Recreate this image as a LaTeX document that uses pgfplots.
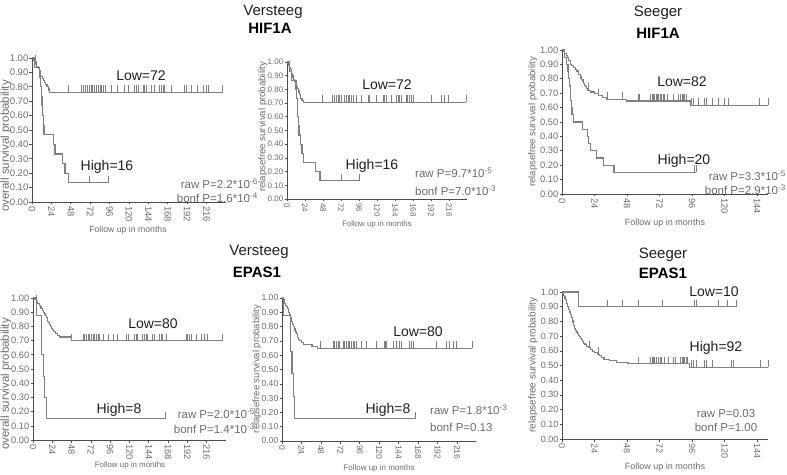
\documentclass[border=0pt]{standalone}
\usepackage{pgfplots}
\pgfplotsset{compat=1.18}
\usepackage{fontspec}
\setmainfont{Liberation Sans}
\definecolor{curve}{gray}{0.5}
\definecolor{axisc}{gray}{0.3}
\definecolor{tickc}{gray}{0.42}
\definecolor{lab}{gray}{0.12}
\pgfdeclareplotmark{cens}{\pgfpathmoveto{\pgfqpoint{0pt}{0pt}}\pgfpathlineto{\pgfqpoint{0pt}{7pt}}\pgfusepathqstroke}
\pgfplotsset{
 km/.style={
  scale only axis, xmin=0, ymin=0, ymax=1, clip=false,
  axis x line*=bottom, axis y line*=left,
  axis line style={draw=axisc, line width=0.8pt},
  ytick={0,0.1,0.2,0.3,0.4,0.5,0.6,0.7,0.8,0.9,1},
  yticklabel style={/pgf/number format/fixed,/pgf/number format/fixed zerofill,/pgf/number format/precision=2, inner sep=1pt},
  /pgf/number format/assume math mode=true,
  tick align=outside, major tick length=2.5pt,
  every tick/.style={draw=axisc, line width=0.6pt},
  xticklabel style={rotate=-90, anchor=west, inner sep=1.5pt},
  tick label style={text=tickc},
 },
 kmline/.style={const plot, draw=curve, line width=1.1pt, mark=none},
 kmcens/.style={only marks, mark=cens, mark options={draw=curve, line width=0.7pt}},
}
\newcommand{\fs}[1]{\fontsize{#1}{#1}\selectfont}
\begin{document}
\begin{tikzpicture}
% ---------------- Panel 1: Versteeg HIF1A overall
\begin{axis}[km, at={(32pt,272pt)}, anchor=south west, width=194pt, height=144pt, xmax=240,
  xtick={0,24,...,216}, tick label style={font=\fs{9.5}}]
\addplot[kmline] coordinates {(0,1)(2,0.986)(3,0.972)(5,0.958)(6,0.944)(8,0.93)(9,0.916)(10,0.888)(11,0.874)(12.5,0.86)(14,0.846)(15.5,0.832)(17,0.818)(18.5,0.804)(20,0.79)(21,0.776)(22,0.762)(236,0.762)};
\addplot[kmcens] coordinates {(4,0.972)(45,0.762)(61,0.762)(63.5,0.762)(66,0.762)(68,0.762)(71,0.762)(73,0.762)(75,0.762)(77.5,0.762)(80,0.762)(82,0.762)(84,0.762)(86,0.762)(88,0.762)(90.7,0.762)(98,0.762)(105.6,0.762)(114.6,0.762)(118.8,0.762)(127,0.762)(129,0.762)(131,0.762)(137.3,0.762)(139.4,0.762)(141.4,0.762)(147.6,0.762)(151.7,0.762)(158,0.762)(160,0.762)(162,0.762)(164,0.762)(173,0.762)(189,0.762)(191,0.762)(197,0.762)(204.5,0.762)(211.5,0.762)(215.6,0.762)(217.7,0.762)(236,0.762)};
\addplot[kmline] coordinates {(0,1)(3,0.933)(9.5,0.867)(11,0.80)(11.7,0.733)(12.4,0.667)(13.2,0.60)(14,0.533)(14.8,0.467)(26.4,0.40)(28.5,0.333)(38,0.267)(40.8,0.20)(45,0.133)(94.4,0.133)};
\addplot[kmcens] coordinates {(71,0.133)(94.4,0.133)};
\end{axis}
% ---------------- Panel 2: Versteeg HIF1A relapsefree
\begin{axis}[km, at={(287pt,275pt)}, anchor=south west, width=180pt, height=137pt, xmax=240,
  xtick={0,24,...,216}, tick label style={font=\fs{8}}]
\addplot[kmline] coordinates {(0,1)(1,0.986)(2,0.972)(3,0.958)(4,0.944)(5.5,0.93)(6.5,0.916)(7.5,0.902)(8,0.888)(9,0.874)(10,0.86)(11,0.846)(12,0.832)(13,0.818)(14,0.804)(15,0.79)(16,0.776)(17,0.762)(18,0.748)(18.5,0.734)(20,0.72)(22,0.706)(239,0.706)};
\addplot[kmcens] coordinates {(47,0.706)(61,0.706)(63.6,0.706)(65.8,0.706)(68,0.706)(70.2,0.706)(72.4,0.706)(77,0.706)(79,0.706)(81.3,0.706)(83.5,0.706)(85.6,0.706)(88,0.706)(92.4,0.706)(99,0.706)(108,0.706)(110,0.706)(119,0.706)(128,0.706)(130,0.706)(132,0.706)(139,0.706)(146,0.706)(148,0.706)(150,0.706)(152.4,0.706)(159,0.706)(161,0.706)(163.6,0.706)(166,0.706)(168,0.706)(192.4,0.706)(205.8,0.706)(210,0.706)(214.6,0.706)(239,0.706)};
\addplot[kmline] coordinates {(0,1)(3,0.933)(6,0.867)(12,0.80)(12.8,0.733)(13.6,0.667)(14.4,0.60)(15.2,0.533)(16,0.467)(18,0.40)(20,0.333)(21.5,0.267)(38,0.20)(44,0.133)(96.4,0.133)};
\addplot[kmcens] coordinates {(72,0.133)(96.4,0.133)};
\end{axis}
% ---------------- Panel 3: Seeger HIF1A
\begin{axis}[km, at={(562pt,280pt)}, anchor=south west, width=206pt, height=144pt, xmax=152,
  xtick={0,24,...,144}, tick label style={font=\fs{9.3}}]
\addplot[kmline] coordinates {(0,1)(1,0.988)(2,0.976)(3,0.963)(4,0.951)(4.5,0.939)(5,0.927)(6,0.915)(6.5,0.902)(7,0.89)(8.5,0.878)(10,0.866)(11,0.854)(12,0.841)(12.5,0.829)(13.5,0.817)(14,0.805)(14.5,0.793)(15.5,0.78)(16,0.768)(16.5,0.756)(17.5,0.744)(18,0.732)(19,0.72)(21,0.708)(24,0.695)(27,0.683)(30,0.671)(33,0.659)(47.5,0.646)(94.5,0.615)(152,0.615)};
\addplot[kmcens] coordinates {(19.7,0.72)(27.1,0.683)(33.5,0.659)(44.5,0.659)(56,0.646)(57.3,0.646)(65.4,0.646)(66.4,0.646)(67.4,0.646)(68.4,0.646)(69.4,0.646)(70.4,0.646)(71.3,0.646)(72.3,0.646)(73.3,0.646)(74.5,0.646)(75.8,0.646)(78,0.646)(82,0.646)(85.6,0.646)(87.6,0.646)(88.6,0.646)(89.6,0.646)(90.5,0.646)(91.8,0.646)(95.5,0.615)(96.7,0.615)(100.4,0.615)(105.3,0.615)(106.5,0.615)(110.7,0.615)(115,0.615)(120,0.615)(122.5,0.615)(145.9,0.615)(152,0.615)};
\addplot[kmline] coordinates {(0,1)(2,0.95)(3,0.90)(4.4,0.85)(4.8,0.80)(5.5,0.75)(6,0.70)(6.5,0.65)(7,0.60)(7.4,0.55)(8.3,0.50)(15.2,0.45)(18.7,0.40)(19.5,0.35)(20.7,0.30)(25.6,0.25)(30.5,0.20)(38.4,0.15)(99,0.15)};
\addplot[kmcens] coordinates {(97.4,0.15)(99,0.15)};
\end{axis}
% ---------------- Panel 4: Versteeg EPAS1 overall
\begin{axis}[km, at={(33pt,34pt)}, anchor=south west, width=193pt, height=142pt, xmax=240,
  xtick={0,24,...,216}, tick label style={font=\fs{9.3}}]
\addplot[kmline] coordinates {(0,1)(2,0.9875)(4,0.975)(6,0.9625)(8,0.95)(9,0.9375)(10,0.925)(12,0.9125)(13.5,0.90)(14.5,0.8875)(15.5,0.875)(16.5,0.8625)(17.5,0.85)(18.5,0.8375)(19.5,0.825)(20.5,0.8125)(21.5,0.80)(23,0.7875)(24.5,0.775)(26,0.7625)(28,0.75)(30,0.7375)(33,0.725)(47.6,0.70)(235,0.70)};
\addplot[kmcens] coordinates {(4,0.975)(47.6,0.70)(62,0.70)(64.1,0.70)(66.2,0.70)(68.3,0.70)(70.3,0.70)(72.4,0.70)(74.5,0.70)(76.6,0.70)(78.6,0.70)(80.7,0.70)(82.8,0.70)(86.9,0.70)(93.1,0.70)(99.3,0.70)(105.5,0.70)(115.9,0.70)(118,0.70)(126.2,0.70)(128.3,0.70)(130.3,0.70)(136.6,0.70)(138.6,0.70)(140.7,0.70)(142.7,0.70)(149,0.70)(151,0.70)(157.2,0.70)(159.3,0.70)(161.3,0.70)(165.5,0.70)(190.3,0.70)(192.4,0.70)(194.5,0.70)(196.5,0.70)(202.7,0.70)(209,0.70)(213,0.70)(217.2,0.70)(235,0.70)};
\addplot[kmline] coordinates {(0,1)(4,0.875)(10.5,0.60)(12.5,0.45)(14.5,0.30)(16.5,0.15)(164,0.15)};
\addplot[kmcens] coordinates {(164,0.15)};
\end{axis}
% ---------------- Panel 5: Versteeg EPAS1 relapsefree
\begin{axis}[km, at={(282pt,33pt)}, anchor=south west, width=194.4pt, height=143pt, xmax=240,
  xtick={0,24,...,216}, tick label style={font=\fs{8.6}}]
\addplot[kmline] coordinates {(0,1)(1.5,0.9875)(2.5,0.975)(3.5,0.9625)(4.5,0.95)(5.5,0.9375)(6.5,0.925)(7.5,0.9125)(8.5,0.90)(9.5,0.8875)(10.2,0.875)(10.8,0.8625)(11.4,0.85)(12,0.8375)(12.6,0.825)(13.2,0.8125)(14,0.80)(15,0.7875)(16,0.775)(17,0.7625)(17.8,0.75)(18.6,0.7375)(19.4,0.725)(20.2,0.7125)(21.5,0.70)(24,0.6875)(26,0.675)(37,0.6625)(43.5,0.65)(235,0.65)};
\addplot[kmcens] coordinates {(47.7,0.65)(63,0.65)(65,0.65)(67,0.65)(69,0.65)(71.2,0.65)(75.3,0.65)(77.3,0.65)(79.4,0.65)(81.4,0.65)(83.5,0.65)(85.6,0.65)(87.6,0.65)(89.7,0.65)(91.8,0.65)(98,0.65)(104.1,0.65)(116.4,0.65)(126.7,0.65)(128,0.65)(129.2,0.65)(137,0.65)(141,0.65)(145.2,0.65)(147.3,0.65)(157.6,0.65)(159.6,0.65)(161.7,0.65)(190.5,0.65)(202.8,0.65)(207,0.65)(211,0.65)(215.2,0.65)(235,0.65)};
\addplot[kmline] coordinates {(0,1)(1.5,0.875)(10.3,0.625)(12.3,0.47)(14.4,0.31)(15.8,0.155)(165,0.155)};
\addplot[kmcens] coordinates {(165,0.155)};
\end{axis}
% ---------------- Panel 6: Seeger EPAS1
\begin{axis}[km, at={(562pt,35pt)}, anchor=south west, width=206pt, height=147pt, xmax=152,
  xtick={0,24,...,144}, tick label style={font=\fs{9}}]
\addplot[kmline] coordinates {(0,1)(12.3,0.90)(128.7,0.90)};
\addplot[kmcens] coordinates {(33.5,0.90)(44.5,0.90)(56.1,0.90)(74,0.90)(98,0.90)(99.2,0.90)(115.7,0.90)(122,0.90)(128.7,0.90)};
\addplot[kmline] coordinates {(0,1)(0.7,0.989)(1.2,0.978)(1.7,0.967)(2.2,0.957)(2.7,0.946)(3.1,0.935)(3.5,0.924)(3.9,0.913)(4.3,0.902)(4.7,0.891)(5.1,0.880)(5.5,0.870)(5.9,0.859)(6.3,0.848)(6.7,0.837)(7.1,0.826)(7.5,0.815)(7.8,0.804)(8.1,0.793)(8.4,0.783)(8.7,0.772)(9,0.761)(9.3,0.750)(10,0.739)(10.7,0.728)(11.4,0.717)(12,0.707)(12.8,0.696)(13.6,0.685)(14.5,0.674)(15.3,0.663)(16,0.652)(17,0.641)(18,0.630)(19.5,0.620)(21,0.609)(22.5,0.598)(24,0.587)(26,0.576)(27.5,0.565)(29,0.554)(31,0.543)(35,0.533)(40,0.522)(48.7,0.511)(94.3,0.489)(152,0.489)};
\addplot[kmcens] coordinates {(20.2,0.620)(26.6,0.576)(56.1,0.511)(65.5,0.511)(66.5,0.511)(67.5,0.511)(68.5,0.511)(69.4,0.511)(71,0.511)(72.3,0.511)(73.3,0.511)(75.8,0.511)(78.3,0.511)(82,0.511)(83.7,0.511)(87.6,0.511)(88.6,0.511)(89.6,0.511)(90.6,0.511)(91.6,0.511)(92.6,0.511)(95.5,0.489)(96.7,0.489)(99.2,0.489)(105.3,0.489)(106.5,0.489)(110.7,0.489)(125,0.489)(126.3,0.489)(146,0.489)(152,0.489)};
\end{axis}
% ---------------- Titles
\node[font=\fs{15}, text=lab] at (273pt,462pt) {Versteeg};
\node[font=\fs{15}\bfseries, text=black] at (270pt,446pt) {HIF1A};
\node[font=\fs{15}, text=lab] at (658pt,461pt) {Seeger};
\node[font=\fs{15}\bfseries, text=black] at (658pt,441pt) {HIF1A};
\node[font=\fs{15}, text=lab] at (259pt,222pt) {Versteeg};
\node[font=\fs{15}\bfseries, text=black] at (257pt,202pt) {EPAS1};
\node[font=\fs{15}, text=lab] at (663pt,219pt) {Seeger};
\node[font=\fs{15}\bfseries, text=black] at (663pt,201pt) {EPAS1};
% ---------------- group labels
\node[font=\fs{14}, text=lab] at (141pt,398pt) {Low=72};
\node[font=\fs{14}, text=lab] at (107pt,307pt) {High=16};
\node[font=\fs{14}, text=lab] at (387pt,389pt) {Low=72};
\node[font=\fs{14}, text=lab] at (372pt,308pt) {High=16};
\node[font=\fs{14}, text=lab] at (682pt,392pt) {Low=82};
\node[font=\fs{14}, text=lab] at (684pt,313pt) {High=20};
\node[font=\fs{14}, text=lab] at (153pt,150pt) {Low=80};
\node[font=\fs{14}, text=lab] at (119pt,64pt) {High=8};
\node[font=\fs{14}, text=lab] at (418pt,142pt) {Low=80};
\node[font=\fs{14}, text=lab] at (388pt,64pt) {High=8};
\node[font=\fs{14}, text=lab] at (714pt,182pt) {Low=10};
\node[font=\fs{14}, text=lab] at (716pt,126pt) {High=92};
% ---------------- p values
\node[font=\fs{11.5}, text=tickc, anchor=east, inner sep=0pt] at (258pt,290pt) {raw P=2.2*10\textsuperscript{-6}};
\node[font=\fs{11.5}, text=tickc, anchor=east, inner sep=0pt] at (258pt,276pt) {bonf P=1.6*10\textsuperscript{-4}};
\node[font=\fs{11.5}, text=tickc, anchor=west, inner sep=0pt] at (415pt,301pt) {raw P=9.7*10\textsuperscript{-5}};
\node[font=\fs{11.5}, text=tickc, anchor=west, inner sep=0pt] at (415pt,283pt) {bonf P=7.0*10\textsuperscript{-3}};
\node[font=\fs{11.5}, text=tickc, anchor=east, inner sep=0pt] at (786pt,298pt) {raw P=3.3*10\textsuperscript{-5}};
\node[font=\fs{11.5}, text=tickc, anchor=east, inner sep=0pt] at (786pt,284pt) {bonf P=2.9*10\textsuperscript{-3}};
\node[font=\fs{11.5}, text=tickc, anchor=east, inner sep=0pt] at (255pt,60pt) {raw P=2.0*10\textsuperscript{-5}};
\node[font=\fs{11.5}, text=tickc, anchor=east, inner sep=0pt] at (255pt,45pt) {bonf P=1.4*10\textsuperscript{-3}};
\node[font=\fs{11.5}, text=tickc, anchor=west, inner sep=0pt] at (430pt,64pt) {raw P=1.8*10\textsuperscript{-3}};
\node[font=\fs{11.5}, text=tickc, anchor=west, inner sep=0pt] at (430pt,47pt) {bonf P=0.13};
\node[font=\fs{11.5}, text=tickc, inner sep=0pt] at (726pt,60pt) {raw P=0.03};
\node[font=\fs{11.5}, text=tickc, inner sep=0pt] at (726pt,47pt) {bonf P=1.00};
% ---------------- axis labels
\node[font=\fs{11.5}, text=tickc, rotate=90] at (6pt,328pt) {overall survival probability};
\node[font=\fs{9.6}, text=tickc, rotate=90] at (263pt,347pt) {relapsefree survival probability};
\node[font=\fs{9.6}, text=tickc, rotate=90] at (533pt,352pt) {relapsefree survival probability};
\node[font=\fs{11.5}, text=tickc, rotate=90] at (6pt,90pt) {overall survival probability};
\node[font=\fs{9.5}, text=tickc, rotate=90] at (257pt,105pt) {relapsefree survival probability};
\node[font=\fs{10}, text=tickc, rotate=90] at (533pt,109pt) {relapsefree survival probability};
\node[font=\fs{8.7}, text=tickc] at (128pt,244pt) {Follow up in months};
\node[font=\fs{7.8}, text=tickc] at (377pt,250pt) {Follow up in months};
\node[font=\fs{9}, text=tickc] at (665pt,251pt) {Follow up in months};
\node[font=\fs{7.9}, text=tickc] at (130pt,9pt) {Follow up in months};
\node[font=\fs{8}, text=tickc] at (379pt,6pt) {Follow up in months};
\node[font=\fs{9}, text=tickc] at (665pt,7pt) {Follow up in months};
\pgfresetboundingbox
\path (0pt,0pt) rectangle (787pt,474pt);
\end{tikzpicture}
\end{document}
